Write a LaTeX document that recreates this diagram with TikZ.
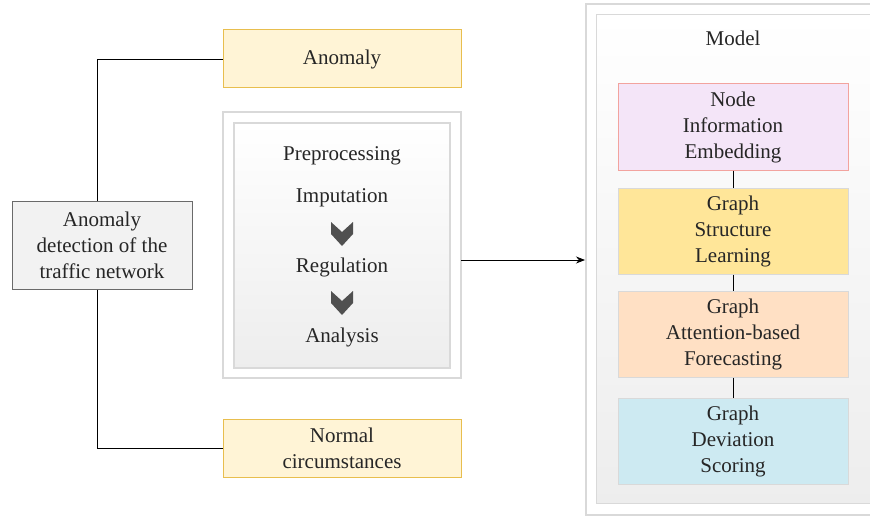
\documentclass[tikz,border=0pt]{standalone}
\usepackage{fontspec}
\setmainfont{Liberation Serif}
\usepackage{xcolor}
\usepackage{tikz}
\usetikzlibrary{arrows.meta,positioning,calc}
\definecolor{outbd}{HTML}{D9D9D9}
\definecolor{yelbg}{HTML}{FFF4D6}
\definecolor{yelbd}{HTML}{E8BE4E}
\definecolor{detbg}{HTML}{F2F2F2}
\definecolor{detbd}{HTML}{6A6A6A}
\definecolor{lavbg}{HTML}{F4E5F8}
\definecolor{lavbd}{HTML}{F2A39E}
\definecolor{strbg}{HTML}{FFE699}
\definecolor{forbg}{HTML}{FFE0C4}
\definecolor{scobg}{HTML}{CDEAF2}
\definecolor{chev}{HTML}{505050}
\tikzset{
  txt/.style={font=\fontsize{21}{26}\selectfont,text=black!85,align=center},
  outcome/.style={txt,draw=yelbd,fill=yelbg,line width=1pt,
                  minimum width=238pt,minimum height=58pt},
  frame/.style={draw=outbd,line width=1.8pt},
  inframe/.style={draw=outbd,line width=1.2pt,top color=white,bottom color=black!7},
  stage/.style={txt,draw=outbd,line width=1pt,minimum width=230pt,minimum height=86pt},
  link/.style={line width=0.8pt,black},
  arrowmain/.style={-{Stealth[length=9pt,width=7pt]},line width=0.8pt,black},
}
\begin{document}
\begin{tikzpicture}[x=1pt,y=-1pt]
  \useasboundingbox(0,0)rectangle(870,516);
  % Outcomes
  \node[outcome](anom)at(342,59){Anomaly};
  \node[outcome](norm)at(342,448){Normal\\circumstances};
  % Task
  \node[txt,draw=detbd,fill=detbg,line width=1pt,minimum width=180pt,
        minimum height=88pt](det)at(102,245){Anomaly\\detection of the\\traffic network};
  \draw[link](det.north-|97,0)|-(anom.west);
  \draw[link](det.south-|97,0)|-(norm.west);
  % Preprocessing block
  \node[frame,minimum width=238pt,minimum height=266pt](pre)at(342,245){};
  \node[inframe,minimum width=216pt,minimum height=245pt](prein)at(342,245.5){};
  \node[txt](prep)at(342,156){Preprocessing};
  \node[txt](imp)at(342,198){Imputation};
  \node[txt](reg)at(342,267){Regulation};
  \node[txt](ana)at(342,337){Analysis};
  \foreach \y in {234,303}{
    \fill[chev](331,\y-12)--(342,\y-2)--(353,\y-12)--(353,\y)--(342,\y+12)
      --(331,\y)--cycle;}
  % Model block
  \node[frame,minimum width=340pt,minimum height=511pt,anchor=north west](model)at(585,3){};
  \node[inframe,minimum width=330pt,minimum height=489pt,anchor=north west](modin)at(596,14){};
  \node[txt](mtitle)at(733,38){Model};
  \node[stage,draw=lavbd,fill=lavbg](emb)at(733,127){Node\\Information\\Embedding};
  \node[stage,fill=strbg](str)at(733,231){Graph\\Structure\\Learning};
  \node[stage,fill=forbg](fore)at(733,334){Graph\\Attention-based\\Forecasting};
  \node[stage,fill=scobg](sco)at(733,441){Graph\\Deviation\\Scoring};
  \draw[link](emb)--(str);
  \draw[link](str)--(fore);
  \draw[link](fore)--(sco);
  % Hand-over
  \coordinate(out)at(461,260);
  \draw[arrowmain](out)--(out-|model.west);
\end{tikzpicture}
\end{document}
